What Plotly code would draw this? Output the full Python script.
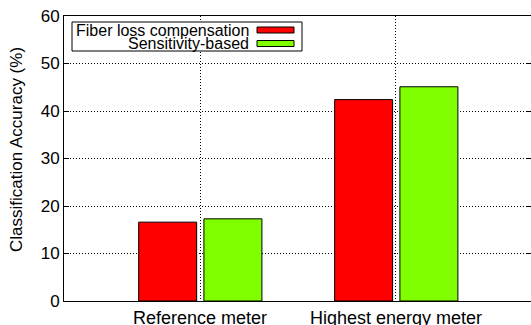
import plotly.graph_objects as go

categories = ["Reference meter", "Highest energy meter"]
fiber_loss = [16.6, 42.4]
sensitivity = [17.3, 45.1]
series_names = ["Fiber loss compensation", "Sensitivity-based"]
y_ticks = [0, 10, 20, 30, 40, 50, 60]

FONT = "Liberation Sans, Arial, sans-serif"
x_pos = list(range(len(categories)))

fig = go.Figure()
fig.add_trace(go.Bar(x=x_pos, y=fiber_loss, name=series_names[0], width=0.296, offset=-0.313,
                     marker=dict(color="#ff0000", line=dict(color="#000000", width=1))))
fig.add_trace(go.Bar(x=x_pos, y=sensitivity, name=series_names[1], width=0.296, offset=0.02,
                     marker=dict(color="#7fff00", line=dict(color="#000000", width=1))))

fig.update_layout(
    width=531, height=325,
    margin=dict(l=64, r=0, t=16, b=24),
    paper_bgcolor="white", plot_bgcolor="white",
    showlegend=False,
    font=dict(family=FONT, size=17, color="black"),
    xaxis=dict(range=[-0.694, 1.689], tickmode="array", tickvals=x_pos, ticktext=categories,
               showgrid=True, gridcolor="black", griddash="1px,2px", gridwidth=1,
               showline=True, linecolor="black", linewidth=1, mirror=True,
               ticks="", zeroline=False, tickfont=dict(size=18), automargin=False),
    yaxis=dict(range=[0, 60], tickmode="array", tickvals=y_ticks,
               showgrid=True, gridcolor="black", griddash="1px,2px", gridwidth=1,
               showline=True, linecolor="black", linewidth=1, mirror="ticks",
               ticks="inside", ticklen=5, tickcolor="black", zeroline=False,
               tickfont=dict(size=17), automargin=False),
)

fig.add_annotation(xref="paper", yref="paper", x=(17-64)/467, y=0.53, xanchor="center",
                   yanchor="middle", text="Classification Accuracy (%)", textangle=-90,
                   showarrow=False, font=dict(size=17, family=FONT, color="black"))

# gnuplot-style legend box (text on left, swatch on right)
fig.add_shape(type="rect", xref="paper", yref="paper",
              x0=(72-64)/467, x1=(302-64)/467, y0=(301-51)/285, y1=(301-22)/285,
              line=dict(color="black", width=1), fillcolor="white", layer="above")
colors = ["#ff0000", "#7fff00"]
rows_y = [30, 43.5]
for name, col, ry in zip(series_names, colors, rows_y):
    fig.add_annotation(xref="paper", yref="paper", x=(251-64)/467, y=(301-ry)/285,
                       text=name, showarrow=False, xanchor="right", yanchor="middle",
                       font=dict(size=16, family=FONT, color="black"))
    fig.add_shape(type="rect", xref="paper", yref="paper",
                  x0=(257-64)/467, x1=(294-64)/467, y0=(301-ry-3)/285, y1=(301-ry+3)/285,
                  line=dict(color="black", width=1), fillcolor=col, layer="above")

fig.write_html("out.html", config={"displayModeBar": False},
               post_script="document.body.style.margin='0';")
